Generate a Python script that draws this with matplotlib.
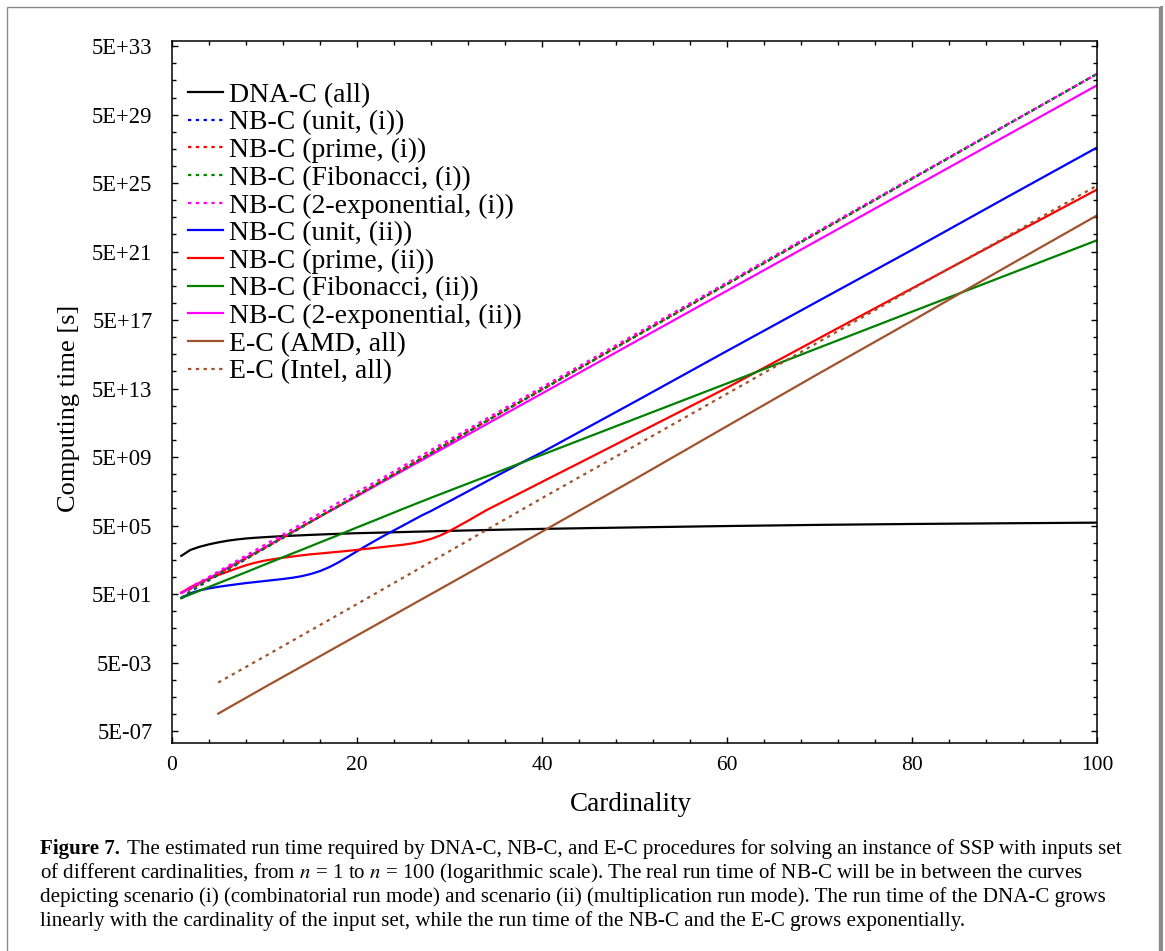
import matplotlib
matplotlib.use('Agg')
from matplotlib import pyplot as plt
from matplotlib.ticker import FixedLocator, FuncFormatter, MultipleLocator
from matplotlib.lines import Line2D

plt.rcParams['font.family'] = ['Liberation Serif', 'DejaVu Serif']
plt.rcParams['mathtext.fontset'] = 'stix'

# Cardinality grids
n_fine = [1, 2, 3, 4, 5, 6, 7, 8, 9, 10, 11, 12, 13, 14, 15, 16, 17, 18, 19, 20, 21, 22, 23, 24, 25,
          26, 27, 28, 29, 30, 32, 34, 36, 38, 40, 45, 50, 60, 70, 80, 90, 100]
n_nb = [1, 2, 4, 6, 8, 10, 12, 14, 16, 18, 20, 22, 25, 28, 30, 35, 40, 50, 60, 70, 80, 90, 100]
n_ec = [5, 10, 20, 30, 40, 50, 60, 70, 80, 90, 100]

# Computing time [s]
dna_all = [8.5e3, 1.9e4, 2.9e4, 4.0e4, 5.2e4, 6.5e4, 7.7e4, 8.8e4, 9.7e4, 1.05e5, 1.13e5, 1.2e5,
           1.28e5, 1.35e5, 1.43e5, 1.5e5, 1.58e5, 1.65e5, 1.72e5, 1.8e5, 1.85e5, 1.9e5, 1.97e5,
           2.03e5, 2.1e5, 2.17e5, 2.23e5, 2.3e5, 2.38e5, 2.45e5, 2.6e5, 2.75e5, 2.9e5, 3.05e5,
           3.2e5, 3.55e5, 3.9e5, 4.7e5, 5.5e5, 6.2e5, 6.8e5, 7.4e5]

unit_i = [2.9e1, 7.1e1, 3.2e2, 1.3e3, 5.5e3, 2.3e4, 9.5e4, 4.0e5, 1.7e6, 6.9e6, 2.9e7, 1.2e8,
          1.0e9, 8.5e9, 3.5e10, 1.3e12, 4.3e13, 5.2e16, 6.3e19, 7.4e22, 8.9e25, 1.05e29, 1.2e32]
prime_i = [5.9e1, 1.0e2, 3.8e2, 1.5e3, 5.9e3, 2.4e4, 1.0e5, 4.2e5, 1.7e6, 7.2e6, 3.0e7, 1.26e8,
           1.05e9, 8.9e9, 3.7e10, 1.3e12, 4.5e13, 5.4e16, 6.5e19, 7.6e22, 9.1e25, 1.07e29, 1.2e32]
fib_i = [2.9e1, 7.6e1, 3.5e2, 1.4e3, 5.8e3, 2.4e4, 1.0e5, 4.1e5, 1.7e6, 7.1e6, 3.0e7, 1.2e8,
         1.0e9, 8.7e9, 3.6e10, 1.3e12, 4.4e13, 5.2e16, 6.3e19, 7.4e22, 8.9e25, 1.05e29, 1.2e32]
exp2_i = [5.9e1, 1.3e2, 5.0e2, 2.1e3, 8.9e3, 3.7e4, 1.5e5, 6.3e5, 2.6e6, 1.1e7, 4.5e7, 1.8e8,
          1.5e9, 1.3e10, 5.2e10, 1.8e12, 6.0e13, 7.1e16, 7.9e19, 8.9e22, 1.0e26, 1.1e29, 1.2e32]

unit_ii = [3.0e1, 5.6e1, 8.3e1, 1.07e2, 1.32e2, 1.58e2, 1.86e2, 2.19e2, 2.51e2, 2.88e2, 3.31e2,
           3.8e2, 4.47e2, 5.5e2, 7.41e2, 1.1e3, 1.86e3, 3.55e3, 7.41e3, 1.58e4, 3.31e4, 6.76e4,
           1.35e5, 2.63e5, 5.1e5, 1.0e6, 1.95e6, 3.55e6, 6.9e6, 1.32e7, 5.0e7, 1.9e8, 7.2e8,
           2.7e9, 9.5e9, 2.8e11, 8.3e12, 7.9e15, 7.1e18, 6.3e21, 6.3e24, 6.0e27]
prime_ii = [5.9e1, 1.26e2, 2.34e2, 4.0e2, 6.46e2, 1.0e3, 1.58e3, 2.4e3, 3.39e3, 4.47e3, 5.5e3,
            6.6e3, 7.76e3, 9.12e3, 1.05e4, 1.17e4, 1.32e4, 1.48e4, 1.66e4, 1.9e4, 2.19e4, 2.51e4,
            2.88e4, 3.31e4, 3.8e4, 4.57e4, 5.89e4, 8.3e4, 1.32e5, 2.4e5, 9.5e5, 4.0e6, 1.41e7,
            5.0e7, 1.78e8, 4.17e9, 1.0e11, 5.6e13, 4.5e16, 3.55e19, 2.8e22, 2.1e25]
fib_ii = [2.9e1, 4.8e1, 1.3e2, 3.5e2, 9.5e2, 2.6e3, 7.1e3, 1.9e4, 5.2e4, 1.4e5, 3.9e5, 1.05e6,
          4.8e6, 2.1e7, 5.5e7, 6.0e8, 6.8e9, 8.3e11, 1.0e14, 1.26e16, 1.55e18, 1.9e20, 2.3e22]
exp2_ii = [5.9e1, 1.05e2, 4.2e2, 1.7e3, 6.6e3, 2.6e4, 1.05e5, 4.2e5, 1.7e6, 6.6e6, 2.6e7, 1.05e8,
           8.3e8, 6.6e9, 2.6e10, 8.3e11, 2.6e13, 2.6e16, 2.6e19, 2.6e22, 2.6e25, 2.6e28, 2.6e31]

ec_amd = [5.2e-6, 1.8e-4, 0.19, 2.0e2, 2.2e5, 2.5e8, 3.2e11, 4.0e14, 4.5e17, 5.6e20, 6.5e23]
ec_intel = [3.4e-4, 1.12e-2, 13.0, 1.6e4, 2.0e7, 2.2e10, 2.5e13, 2.8e16, 3.2e19, 3.2e22, 3.6e25]

blue = '#0000ff'
red = '#ff0000'
green = '#008000'
magenta = '#ff00ff'
brown = '#a0522d'
dot = (0, (1.5, 2.0))

fig = plt.figure(figsize=(11.65, 9.51), dpi=100)
ax = fig.add_axes([172/1165, 1 - 743/951, 925/1165, 702/951])

lw = 1.6
ax.plot(n_fine, dna_all, color='black', lw=lw, label='DNA-C (all)')
ax.plot(n_fine, unit_ii, color=blue, lw=lw, label='NB-C (unit, (ii))')
ax.plot(n_fine, prime_ii, color=red, lw=lw, label='NB-C (prime, (ii))')
ax.plot(n_nb, fib_ii, color=green, lw=lw, label='NB-C (Fibonacci, (ii))')
ax.plot(n_nb, exp2_ii, color=magenta, lw=lw, label='NB-C (2-exponential, (ii))')
ax.plot(n_ec, ec_amd, color=brown, lw=lw, label='E-C (AMD, all)')
ax.plot(n_ec, ec_intel, color=brown, lw=lw, ls=dot, label='E-C (Intel, all)')
ax.plot(n_nb, unit_i, color=blue, lw=lw, ls=dot, label='NB-C (unit, (i))')
ax.plot(n_nb, prime_i, color=red, lw=lw, ls=dot, label='NB-C (prime, (i))')
ax.plot(n_nb, fib_i, color=green, lw=lw, ls=dot, label='NB-C (Fibonacci, (i))')
ax.plot(n_nb, exp2_i, color=magenta, lw=lw, ls=dot, label='NB-C (2-exponential, (i))')

ax.set_yscale('log')
ax.set_xlim(0, 100)
ax.set_ylim(1e-7, 1e34)

ax.xaxis.set_major_locator(MultipleLocator(20))
ax.xaxis.set_minor_locator(MultipleLocator(4))
ax.yaxis.set_major_locator(FixedLocator([5 * 10.0**k for k in range(-7, 34, 4)]))
ax.yaxis.set_minor_locator(FixedLocator([5 * 10.0**k for k in range(-7, 34)]))
ax.yaxis.set_major_formatter(FuncFormatter(lambda v, p: format(v, '.0E')))
ax.yaxis.set_minor_formatter(FuncFormatter(lambda v, p: ''))

ax.tick_params(which='both', direction='in', top=True, right=True, width=1.0)
ax.tick_params(which='major', length=4.5)
ax.tick_params(which='minor', length=2.8)
ax.tick_params(axis='y', which='major', pad=14, labelsize=16.3)
ax.tick_params(axis='x', which='major', pad=9, labelsize=15.5)
for s in ax.spines.values():
    s.set_linewidth(1.1)

ax.set_xlabel('Cardinality', fontsize=19.5)
ax.set_ylabel('Computing time [s]', fontsize=19)
ax.xaxis.set_label_coords(0.496, -0.07)
ax.yaxis.set_label_coords(-0.0995, 0.477)

# legend in the original order
order = ['DNA-C (all)', 'NB-C (unit, (i))', 'NB-C (prime, (i))', 'NB-C (Fibonacci, (i))',
         'NB-C (2-exponential, (i))', 'NB-C (unit, (ii))', 'NB-C (prime, (ii))',
         'NB-C (Fibonacci, (ii))', 'NB-C (2-exponential, (ii))', 'E-C (AMD, all)', 'E-C (Intel, all)']
handles = {l.get_label(): l for l in ax.get_lines()}
ax.legend([handles[k] for k in order], order, loc='upper left', bbox_to_anchor=(0.0173, 0.941),
          frameon=False, fontsize=20, borderpad=0, borderaxespad=0, labelspacing=0.08,
          handlelength=1.25, handletextpad=0.22)

# caption
cap_fs = 15.1
fig.text(40/1165, 1 - 849/951, 'Figure 7.', fontsize=cap_fs, fontweight='bold', va='center')
fig.text(127/1165, 1 - 849/951,
         'The estimated run time required by DNA-C, NB-C, and E-C procedures for solving an instance of SSP with inputs set',
         fontsize=cap_fs, va='center')
fig.text(40/1165, 1 - 873/951,
         'of different cardinalities, from $n$ = 1 to $n$ = 100 (logarithmic scale). The real run time of NB-C will be in between the curves',
         fontsize=cap_fs, va='center')
fig.text(40/1165, 1 - 897/951,
         'depicting scenario (i) (combinatorial run mode) and scenario (ii) (multiplication run mode). The run time of the DNA-C grows',
         fontsize=cap_fs, va='center')
fig.text(40/1165, 1 - 921/951,
         'linearly with the cardinality of the input set, while the run time of the NB-C and the E-C grows exponentially.',
         fontsize=cap_fs, va='center')

# page frame
fig.add_artist(plt.Rectangle((7/1165, -0.01), 1152/1165, 1.01 - 7/951, transform=fig.transFigure,
                             fill=False, ec='#8c8c8c', lw=1.0))
fig.add_artist(Line2D([1160.5/1165, 1160.5/1165], [0, 1 - 7/951], transform=fig.transFigure,
                      color='#8c8c8c', lw=2.2))

fig.savefig('out.png', dpi=100)
